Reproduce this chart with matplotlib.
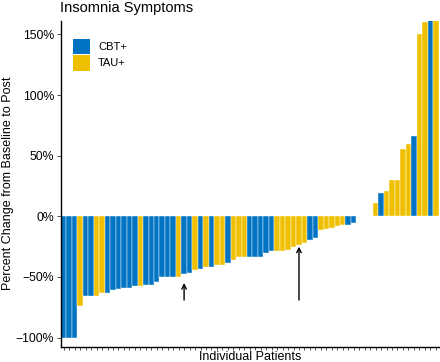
import numpy as np
import matplotlib
matplotlib.use("Agg")
import matplotlib.pyplot as plt
from matplotlib.patches import Patch

plt.rcParams['font.family'] = ['Liberation Sans', 'DejaVu Sans']

# percent change per patient (sorted, waterfall)
pct_change = [-100, -100, -100, -74.2, -65.9, -65.9, -65.9, -63.4, -62.9, -60.7,
              -60.2, -59.3, -59.3, -57.4, -57.1, -56.6, -56.6, -54.5, -50, -50,
              -50, -50, -47.5, -46.7, -44.5, -43.2, -42, -42, -40.5, -40.5,
              -38.5, -36.3, -33.5, -33.5, -33.5, -33.5, -33.5, -30, -28.7, -28.7,
              -28.7, -27.5, -25.3, -23.4, -22, -19.8, -17.6, -11, -10.5, -9.5,
              -8.3, -7.5, -7.3, -5.5, 0, 0, 0, 11.3, 19, 21.3,
              29.8, 29.8, 55.3, 59.7, 66.6, 150.3, 160.3, 165, 165]
# B = CBT+, Y = TAU+, '' = no bar
group = ['B', 'B', 'B', 'Y', 'B', 'B', 'Y', 'Y', 'B', 'B',
         'B', 'B', 'B', 'B', 'Y', 'B', 'B', 'B', 'B', 'B',
         'B', 'Y', 'B', 'B', 'Y', 'B', 'Y', 'B', 'Y', 'Y',
         'B', 'Y', 'Y', 'Y', 'B', 'B', 'B', 'B', 'B', 'Y',
         'Y', 'Y', 'Y', 'Y', 'Y', 'B', 'B', 'Y', 'Y', 'Y',
         'Y', 'Y', 'B', 'B', '', '', '', 'Y', 'B', 'Y',
         'Y', 'Y', 'Y', 'Y', 'B', 'Y', 'Y', 'B', 'Y']
arrow_patients = [22, 43]
arrow_tips = [-55, -25]

colors = {'B': '#0073C2', 'Y': '#EFC000', '': 'white'}

fig = plt.figure(figsize=(4.4, 3.62), dpi=100)
ax = fig.add_axes([61 / 440, 1 - 346.7 / 362, 377.5 / 440, 326.2 / 362])

x = np.arange(len(pct_change))
ax.bar(x, pct_change, width=1.0, color=[colors[g] for g in group],
       edgecolor='white', linewidth=0.3)

for xi, tip in zip(arrow_patients, arrow_tips):
    ax.annotate('', xy=(xi, tip), xytext=(xi, -69),
                arrowprops=dict(arrowstyle='->', color='black', lw=1.0,
                                mutation_scale=8, shrinkA=0, shrinkB=0))

ax.set_xlim(-0.5, len(pct_change) - 0.5)
ax.set_ylim(-107.5, 161.5)
ax.set_yticks([-100, -50, 0, 50, 100, 150])
ax.set_yticklabels(['\u2212100%', '\u221250%', '0%', '50%', '100%', '150%'])
ax.set_xticks(x)
ax.set_xticklabels([])
ax.tick_params(axis='x', length=2, width=0.6, color='#333333')
ax.tick_params(axis='y', length=3, width=0.6, color='#333333', labelsize=8.8, pad=2)

for s in ['top', 'right']:
    ax.spines[s].set_visible(False)
ax.spines['left'].set_linewidth(1.0)
ax.spines['bottom'].set_linewidth(1.0)

# axis labels placed on the figure
fig.text(250 / 440, 1 - 359.5 / 362, 'Individual Patients', fontsize=9, ha='center', va='baseline')
fig.text(8 / 440, 1 - 183.6 / 362, 'Percent Change from Baseline to Post', fontsize=9,
         rotation=90, ha='center', va='center')
fig.text(60 / 440, 1 - 12 / 362, 'Insomnia Symptoms', fontsize=10.5, ha='left', va='baseline')

handles = [Patch(facecolor='#0073C2', label='CBT+'), Patch(facecolor='#EFC000', label='TAU+')]
ax.legend(handles=handles, loc='upper left', bbox_to_anchor=(0.005, 0.975), frameon=False,
          fontsize=8, handlelength=1.55, handleheight=1.8, handletextpad=0.7, labelspacing=0.05)

fig.savefig('out.png', dpi=100)
